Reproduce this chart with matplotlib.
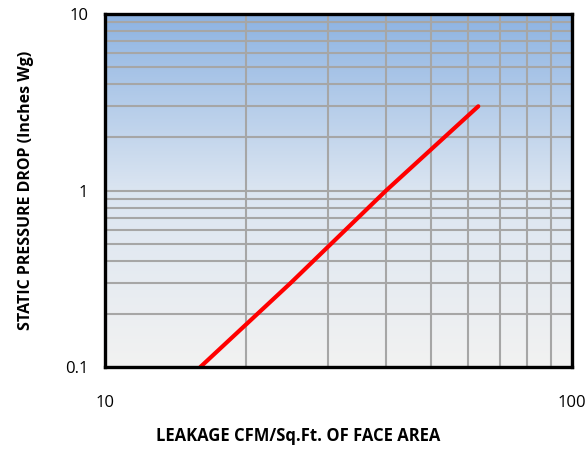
import numpy as np
import matplotlib.pyplot as plt
from matplotlib.colors import LinearSegmentedColormap
from matplotlib.ticker import NullFormatter

# leakage curve
leakage = [16, 25, 40, 63]
pressure = [0.1, 0.3, 1.0, 3.0]

x_ticks = [10, 100]
x_tick_labels = ["10", "100"]
y_ticks = [0.1, 1, 10]
y_tick_labels = ["0.1", "1", "10"]

FONT = ["Open Sans", "DejaVu Sans"]
GRID_CLR = "#a6a6a6"

fig = plt.figure(figsize=(5.87, 4.5), dpi=100)
ax = fig.add_axes([0.1789, 0.1844, 0.7955, 0.7845])

# gradient background, blue at top fading to light grey
cmap = LinearSegmentedColormap.from_list("bg", ["#f2f2f2", "#dbe5f1", "#8db3e2"])
grad = np.linspace(0, 1, 256).reshape(-1, 1)
ax.imshow(grad, cmap=cmap, aspect="auto", origin="lower",
          extent=[0, 1, 0, 1], transform=ax.transAxes, zorder=0)

ax.set_xscale("log")
ax.set_yscale("log")
ax.set_xlim(10, 100)
ax.set_ylim(0.1, 10)

ax.grid(True, which="both", color=GRID_CLR, linewidth=1.5, zorder=1)
ax.set_axisbelow(True)

ax.plot(leakage, pressure, color="#ff0000", linewidth=3, solid_capstyle="round", zorder=3)

for sp in ax.spines.values():
    sp.set_linewidth(2.4)
    sp.set_color("black")
    sp.set_zorder(4)

ax.set_xticks(x_ticks)
ax.set_xticklabels(x_tick_labels)
ax.set_yticks(y_ticks)
ax.set_yticklabels(y_tick_labels)
ax.xaxis.set_minor_formatter(NullFormatter())
ax.yaxis.set_minor_formatter(NullFormatter())
ax.tick_params(which="both", length=0)
ax.tick_params(axis="x", pad=20, labelsize=12)
ax.tick_params(axis="y", pad=12, labelsize=12)
for lab in ax.get_xticklabels() + ax.get_yticklabels():
    lab.set_family(FONT)

ax.set_xlabel("LEAKAGE CFM/Sq.Ft. OF FACE AREA", fontsize=12, fontweight="bold",
              family=FONT)
ax.xaxis.set_label_coords(0.413, -0.17)
ax.set_ylabel("STATIC PRESSURE DROP (Inches Wg)", fontsize=11.5, fontweight="bold",
              family=FONT, labelpad=22)

fig.savefig("out.png", dpi=100)
